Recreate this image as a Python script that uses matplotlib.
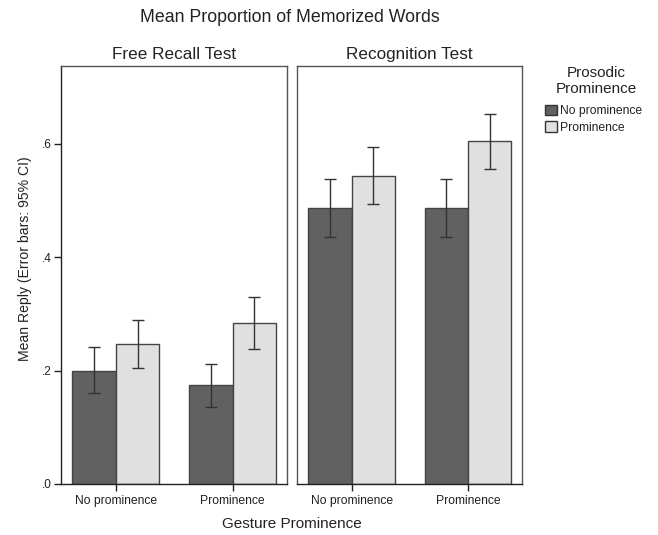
import matplotlib
matplotlib.use("Agg")
import matplotlib.pyplot as plt
from matplotlib.patches import Patch
import numpy as np

plt.rcParams['font.family'] = ['Liberation Sans', 'DejaVu Sans']

panels = ["Free Recall Test", "Recognition Test"]
gesture = ["No prominence", "Prominence"]
prosodic = ["No prominence", "Prominence"]
# mean[panel][prosodic][gesture]
means = {
    "Free Recall Test": {"No prominence": [0.200, 0.174], "Prominence": [0.247, 0.283]},
    "Recognition Test": {"No prominence": [0.487, 0.487], "Prominence": [0.543, 0.604]},
}
ci_low = {
    "Free Recall Test": {"No prominence": [0.160, 0.136], "Prominence": [0.204, 0.238]},
    "Recognition Test": {"No prominence": [0.436, 0.436], "Prominence": [0.493, 0.555]},
}
ci_high = {
    "Free Recall Test": {"No prominence": [0.241, 0.212], "Prominence": [0.290, 0.329]},
    "Recognition Test": {"No prominence": [0.537, 0.537], "Prominence": [0.594, 0.653]},
}
yticks = [0.0, 0.2, 0.4, 0.6]
ytick_labels = [".0", ".2", ".4", ".6"]

colors = {"No prominence": "#616161", "Prominence": "#e0e0e0"}
edge = "#444444"

W, H = 658, 535
fig = plt.figure(figsize=(W / 100, H / 100), dpi=100)

def ax_rect(x0, x1, y0, y1):
    return [x0 / W, 1 - y1 / H, (x1 - x0) / W, (y1 - y0) / H]

axes = [fig.add_axes(ax_rect(61, 287, 66, 484)), fig.add_axes(ax_rect(297, 522, 66, 484))]

bw = 0.372
x = np.arange(len(gesture))
for ax, panel in zip(axes, panels):
    for j, p in enumerate(prosodic):
        offs = (j - 0.5) * bw
        m = np.array(means[panel][p])
        lo = m - np.array(ci_low[panel][p])
        hi = np.array(ci_high[panel][p]) - m
        ax.bar(x + offs, m, width=bw, color=colors[p], edgecolor=edge, linewidth=1.0, zorder=2)
        ax.errorbar(x + offs, m, yerr=[lo, hi], fmt='none', ecolor='#333333',
                    elinewidth=1.0, capsize=4, capthick=1.0, zorder=3)
    ax.set_xlim(-0.47, 1.465)
    ax.set_ylim(0, 0.737)
    ax.set_xticks(x)
    ax.set_xticklabels(gesture, fontsize=8.7, color='#222222')
    ax.set_title(panel, fontsize=12.3, color='#222222', pad=5)
    for s in ax.spines.values():
        s.set_color('#555555')
        s.set_linewidth(1.0)
    ax.spines['bottom'].set_color('#222222')
    ax.tick_params(axis='x', length=5, width=1, color='#222222', pad=3)

axes[0].set_yticks(yticks)
axes[0].set_yticklabels(ytick_labels, fontsize=8.5, color='#222222')
axes[0].spines['left'].set_color('#222222')
axes[0].tick_params(axis='y', length=5, width=1, color='#222222', pad=2)
axes[1].set_yticks([])

fig.text(290 / W, 1 - 17 / H, "Mean Proportion of Memorized Words", ha='center', va='center',
         fontsize=12.8, color='#222222')
fig.text(292 / W, 1 - 524 / H, "Gesture Prominence", ha='center', va='center',
         fontsize=11, color='#222222')
fig.text(25 / W, 1 - 259 / H, "Mean Reply (Error bars: 95% CI)", ha='center', va='center',
         rotation=90, fontsize=10.1, color='#222222')

fig.text(596 / W, 1 - 81 / H, "Prosodic\nProminence", ha='center', va='center',
         fontsize=11, color='#222222', linespacing=1.15)
handles = [Patch(facecolor=colors[p], edgecolor='#333333', linewidth=1.0) for p in prosodic]
leg = fig.legend(handles, prosodic, loc='upper left', bbox_to_anchor=(541 / W, 1 - 101 / H),
                 frameon=False, fontsize=8.7, handlelength=1.0, handleheight=1.0,
                 handletextpad=0.25, labelspacing=0.35, borderaxespad=0, borderpad=0.3)
for t in leg.get_texts():
    t.set_color('#222222')

fig.savefig("out.png", dpi=100)
